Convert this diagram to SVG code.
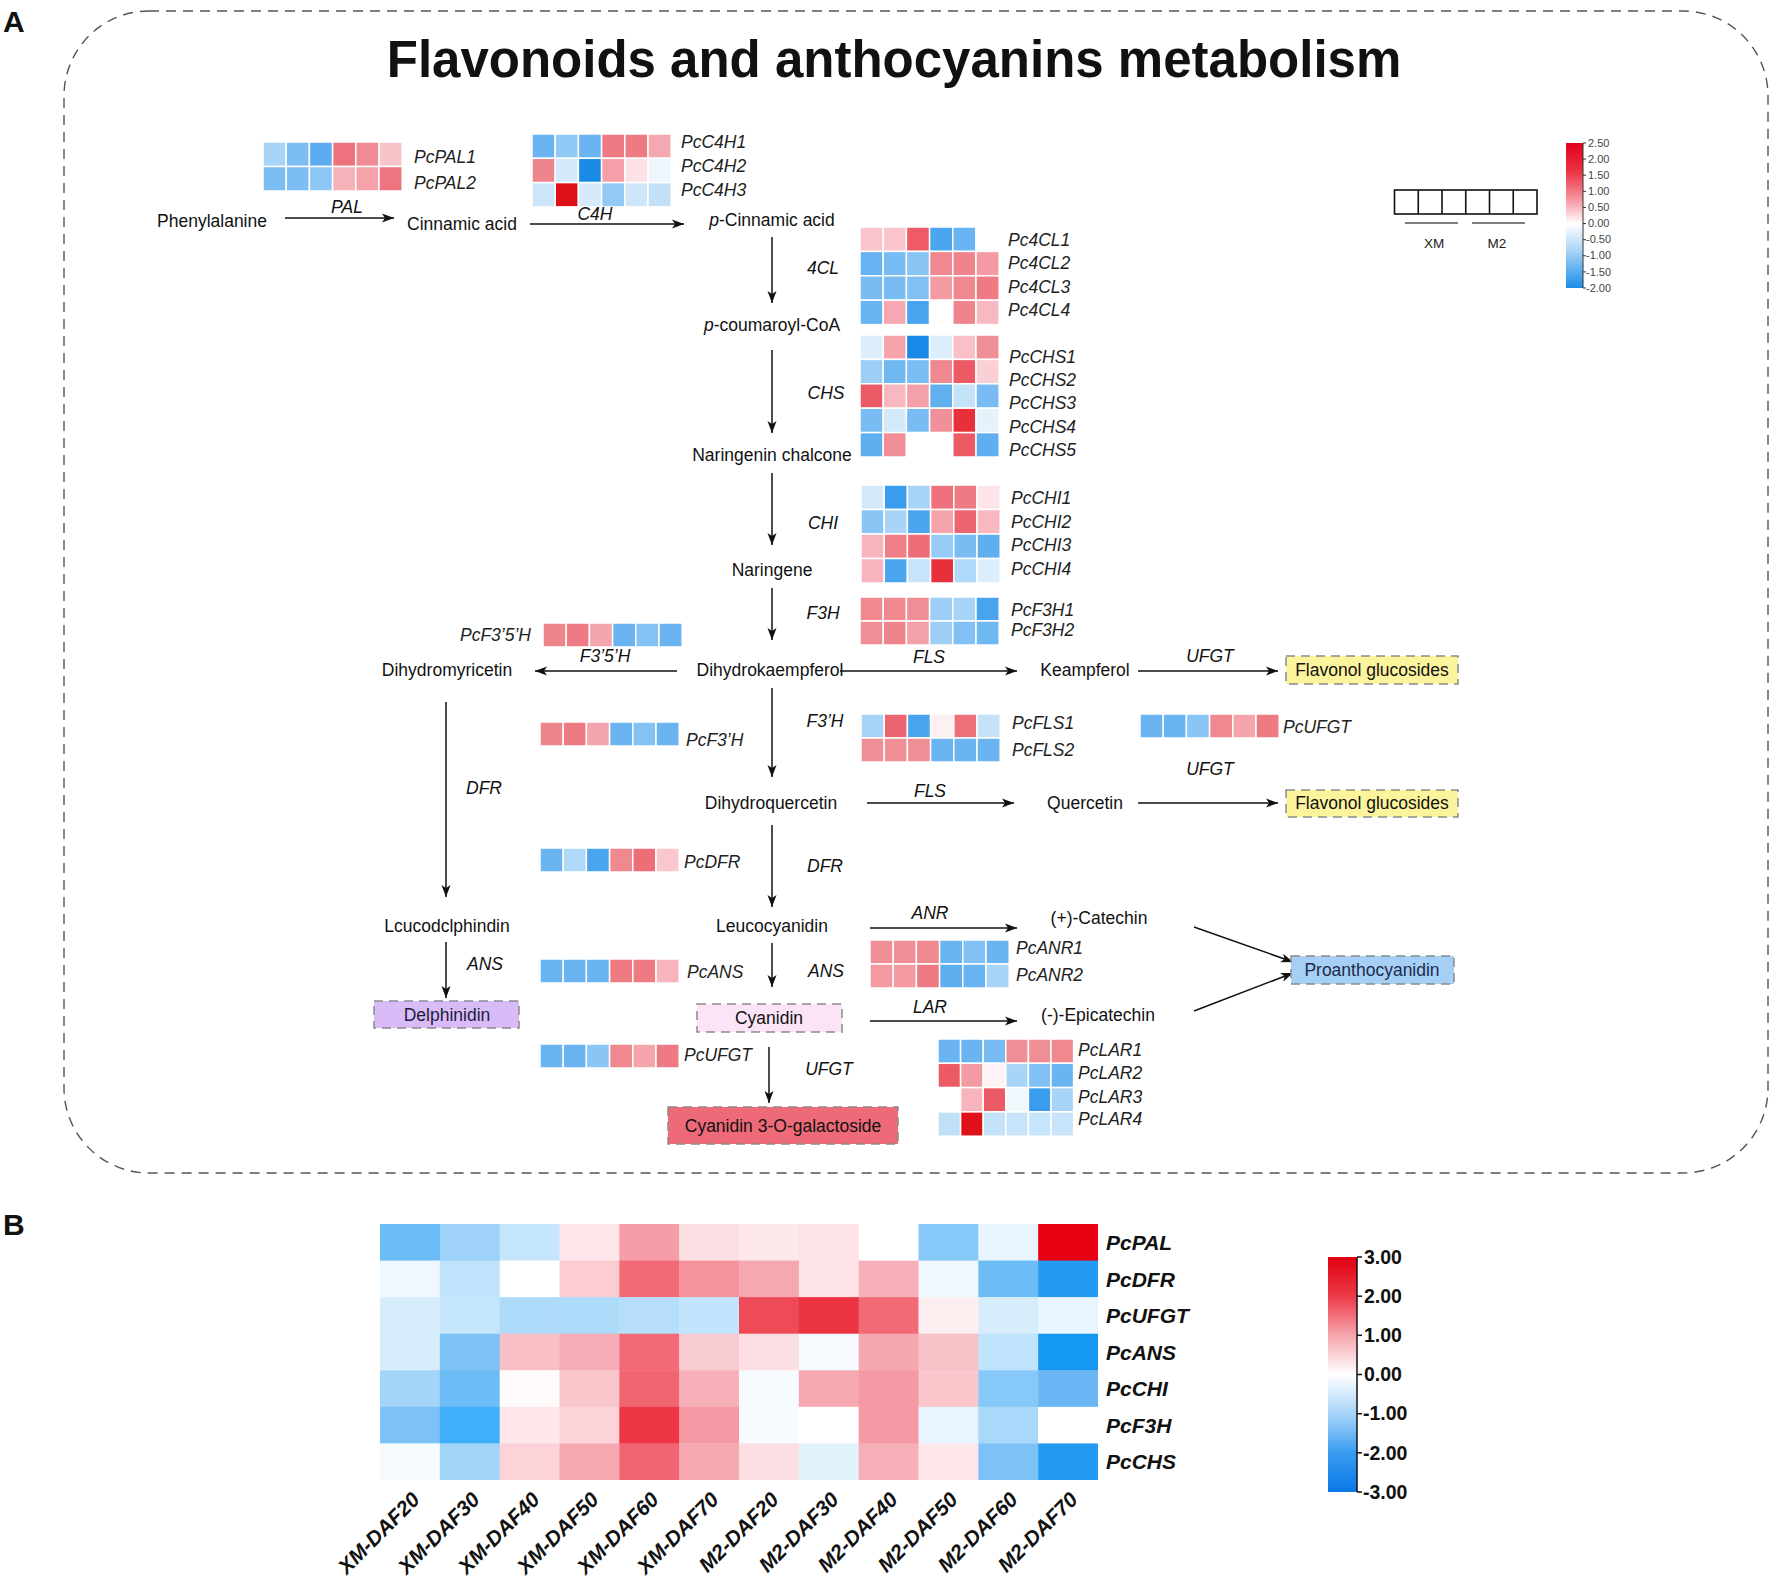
<svg xmlns="http://www.w3.org/2000/svg" width="1772" height="1585" viewBox="0 0 1772 1585">
<defs>
<style>
text{font-family:"Liberation Sans",Arial,sans-serif;fill:#111}
.m{font-size:17.5px;text-anchor:middle}
.g{font-size:17.5px;font-style:italic;fill:#222}
.e{font-size:17.5px;font-style:italic;text-anchor:middle}
.c rect{stroke:#fff;stroke-width:1.5}
.b rect{stroke:none}
.bx{stroke:#8a8a8a;stroke-width:1.5;stroke-dasharray:9 6}
.ln{stroke:#111;stroke-width:1.5;fill:none}
.bl{font-size:21px;font-weight:bold;font-style:italic}
.cl{font-size:21px;font-weight:bold;font-style:italic;text-anchor:end}
.t1{font-size:11px;fill:#444}
.t2{font-size:19.5px;font-weight:bold}
</style>
<marker id="ah" markerWidth="13" markerHeight="10" refX="12" refY="5" orient="auto" markerUnits="userSpaceOnUse"><path d="M0,0.5 L12,5 L0,9.5 L3,5 Z" fill="#111"/></marker>
<linearGradient id="gA" x1="0" y1="0" x2="0" y2="1">
<stop offset="0" stop-color="#e0001b"/><stop offset="0.2" stop-color="#ec3444"/><stop offset="0.4" stop-color="#f59ca6"/><stop offset="0.556" stop-color="#ffffff"/><stop offset="0.72" stop-color="#b4daf8"/><stop offset="1" stop-color="#1a8ee8"/>
</linearGradient>
<linearGradient id="gB" x1="0" y1="0" x2="0" y2="1">
<stop offset="0" stop-color="#e00010"/><stop offset="0.167" stop-color="#ec3a48"/><stop offset="0.333" stop-color="#f5a5ad"/><stop offset="0.5" stop-color="#ffffff"/><stop offset="0.667" stop-color="#a8d4fa"/><stop offset="0.833" stop-color="#3a9cf0"/><stop offset="1" stop-color="#0a78e8"/>
</linearGradient>
</defs>
<rect width="1772" height="1585" fill="#fff"/>

<text x="3" y="32" style="font-size:30px;font-weight:bold">A</text>
<text x="3" y="1235" style="font-size:30px;font-weight:bold">B</text>
<path d="M149,11 H1683 A85,85 0 0 1 1768,96 V1088 A85,85 0 0 1 1683,1173 H149 A85,85 0 0 1 64,1088 V96 A85,85 0 0 1 149,11 Z" fill="none" stroke="#555" stroke-width="1.4" stroke-dasharray="10 7"/>
<text x="894" y="77" style="font-size:51px;font-weight:bold;text-anchor:middle">Flavonoids and anthocyanins metabolism</text>

<g id="connectors">
<line class="ln" x1="285" y1="218" x2="394" y2="218" marker-end="url(#ah)"/>
<line class="ln" x1="530" y1="224" x2="684" y2="224" marker-end="url(#ah)"/>
<line class="ln" x1="772" y1="237" x2="772" y2="303" marker-end="url(#ah)"/>
<line class="ln" x1="772" y1="350" x2="772" y2="433" marker-end="url(#ah)"/>
<line class="ln" x1="772" y1="473" x2="772" y2="545" marker-end="url(#ah)"/>
<line class="ln" x1="772" y1="588" x2="772" y2="640" marker-end="url(#ah)"/>
<line class="ln" x1="677" y1="671" x2="535" y2="671" marker-end="url(#ah)"/>
<line class="ln" x1="840" y1="671" x2="1017" y2="671" marker-end="url(#ah)"/>
<line class="ln" x1="1138" y1="671" x2="1278" y2="671" marker-end="url(#ah)"/>
<line class="ln" x1="446" y1="702" x2="446" y2="897" marker-end="url(#ah)"/>
<line class="ln" x1="772" y1="688" x2="772" y2="777" marker-end="url(#ah)"/>
<line class="ln" x1="867" y1="803" x2="1014" y2="803" marker-end="url(#ah)"/>
<line class="ln" x1="1138" y1="803" x2="1278" y2="803" marker-end="url(#ah)"/>
<line class="ln" x1="772" y1="825" x2="772" y2="907" marker-end="url(#ah)"/>
<line class="ln" x1="870" y1="928" x2="1017" y2="928" marker-end="url(#ah)"/>
<line class="ln" x1="870" y1="1021" x2="1017" y2="1021" marker-end="url(#ah)"/>
<line class="ln" x1="446" y1="942" x2="446" y2="998" marker-end="url(#ah)"/>
<line class="ln" x1="772" y1="943" x2="772" y2="987" marker-end="url(#ah)"/>
<line class="ln" x1="769" y1="1047" x2="769" y2="1103" marker-end="url(#ah)"/>
<line class="ln" x1="1194" y1="927" x2="1293" y2="962" marker-end="url(#ah)"/>
<line class="ln" x1="1194" y1="1011" x2="1293" y2="973" marker-end="url(#ah)"/>
</g>

<g id="n-phenylalanine"><text class="m" x="212" y="227">Phenylalanine</text></g>
<g id="n-cinnamic"><text class="m" x="462" y="230">Cinnamic acid</text></g>
<g id="n-pcinnamic"><text class="m" x="772" y="226"><tspan font-style="italic">p</tspan>-Cinnamic acid</text></g>
<g id="n-pcoumaroyl"><text class="m" x="772" y="331"><tspan font-style="italic">p</tspan>-coumaroyl-CoA</text></g>
<g id="n-naringenin-chalcone"><text class="m" x="772" y="461">Naringenin chalcone</text></g>
<g id="n-naringene"><text class="m" x="772" y="576">Naringene</text></g>
<g id="n-dihydrokaempferol"><text class="m" x="770" y="676">Dihydrokaempferol</text></g>
<g id="n-dihydromyricetin"><text class="m" x="447" y="676">Dihydromyricetin</text></g>
<g id="n-keampferol"><text class="m" x="1085" y="676">Keampferol</text></g>
<g id="n-dihydroquercetin"><text class="m" x="771" y="809">Dihydroquercetin</text></g>
<g id="n-quercetin"><text class="m" x="1085" y="809">Quercetin</text></g>
<g id="n-leucodelphinidin"><text class="m" x="447" y="932">Lcucodclphindin</text></g>
<g id="n-leucocyanidin"><text class="m" x="772" y="932">Leucocyanidin</text></g>
<g id="n-catechin"><text class="m" x="1099" y="924">(+)-Catechin</text></g>
<g id="n-epicatechin"><text class="m" x="1098" y="1021">(-)-Epicatechin</text></g>
<g id="n-flavonol1"><rect class="bx" x="1286" y="656" width="172" height="28" fill="#fcf49c"/><text class="m" x="1372" y="676">Flavonol glucosides</text></g>
<g id="n-flavonol2"><rect class="bx" x="1286" y="790" width="172" height="27" fill="#fcf49c"/><text class="m" x="1372" y="809">Flavonol glucosides</text></g>
<g id="n-delphinidin"><rect class="bx" x="374" y="1001" width="145" height="27" fill="#d9bcf7"/><text class="m" x="447" y="1021" style="fill:#1c1c3c">Delphinidin</text></g>
<g id="n-cyanidin"><rect class="bx" x="697" y="1004" width="145" height="28" fill="#fbe4f6"/><text class="m" x="769" y="1024">Cyanidin</text></g>
<g id="n-c3g"><rect class="bx" x="668" y="1107" width="230" height="37" fill="#ee6a78"/><text class="m" x="783" y="1132">Cyanidin 3-O-galactoside</text></g>
<g id="n-proanthocyanidin"><rect class="bx" x="1291" y="956" width="163" height="28" fill="#a6cff5"/><text class="m" x="1372" y="976" style="fill:#1c2c4c">Proanthocyanidin</text></g>

<g id="hm-PAL" class="c" transform="translate(263,142)">
<rect x="0" y="0" width="23.2" height="24.5" fill="#a8d4f7"/><rect x="23.2" y="0" width="23.2" height="24.5" fill="#7cbdf3"/><rect x="46.4" y="0" width="23.2" height="24.5" fill="#5eacf0"/><rect x="69.6" y="0" width="23.2" height="24.5" fill="#ee727e"/><rect x="92.8" y="0" width="23.2" height="24.5" fill="#f08a93"/><rect x="116" y="0" width="23.2" height="24.5" fill="#f9c3ca"/>
<rect x="0" y="24.5" width="23.2" height="24.5" fill="#7cbdf3"/><rect x="23.2" y="24.5" width="23.2" height="24.5" fill="#7cbdf3"/><rect x="46.4" y="24.5" width="23.2" height="24.5" fill="#8cc7f5"/><rect x="69.6" y="24.5" width="23.2" height="24.5" fill="#f7b1b9"/><rect x="92.8" y="24.5" width="23.2" height="24.5" fill="#f5a2aa"/><rect x="116" y="24.5" width="23.2" height="24.5" fill="#ee7480"/>
</g>
<g id="lb-PAL"><text class="g" x="414" y="163">PcPAL1</text><text class="g" x="414" y="189">PcPAL2</text></g>

<g id="hm-C4H" class="c" transform="translate(532,134)">
<rect x="0" y="0" width="23.2" height="24.3" fill="#6ab4f2"/><rect x="23.2" y="0" width="23.2" height="24.3" fill="#90c9f5"/><rect x="46.4" y="0" width="23.2" height="24.3" fill="#6ab4f2"/><rect x="69.6" y="0" width="23.2" height="24.3" fill="#ee7a84"/><rect x="92.8" y="0" width="23.2" height="24.3" fill="#ee7a84"/><rect x="116" y="0" width="23.2" height="24.3" fill="#f4a9b1"/>
<rect x="0" y="24.3" width="23.2" height="24.3" fill="#ee858d"/><rect x="23.2" y="24.3" width="23.2" height="24.3" fill="#d4eafa"/><rect x="46.4" y="24.3" width="23.2" height="24.3" fill="#1a8ae6"/><rect x="69.6" y="24.3" width="23.2" height="24.3" fill="#f5a0a8"/><rect x="92.8" y="24.3" width="23.2" height="24.3" fill="#fde1e5"/><rect x="116" y="24.3" width="23.2" height="24.3" fill="#eef6fd"/>
<rect x="0" y="48.6" width="23.2" height="24.3" fill="#cde6fa"/><rect x="23.2" y="48.6" width="23.2" height="24.3" fill="#e0101a"/><rect x="46.4" y="48.6" width="23.2" height="24.3" fill="#d5ebfa"/><rect x="69.6" y="48.6" width="23.2" height="24.3" fill="#92c9f5"/><rect x="92.8" y="48.6" width="23.2" height="24.3" fill="#cde6fa"/><rect x="116" y="48.6" width="23.2" height="24.3" fill="#c2e1f8"/>
</g>
<g id="lb-C4H"><text class="g" x="681" y="148">PcC4H1</text><text class="g" x="681" y="172">PcC4H2</text><text class="g" x="681" y="196">PcC4H3</text></g>

<g id="hm-4CL" class="c" transform="translate(860,227)">
<rect x="0" y="0" width="23.2" height="24.4" fill="#f9c4cc"/><rect x="23.2" y="0" width="23.2" height="24.4" fill="#f9c4cc"/><rect x="46.4" y="0" width="23.2" height="24.4" fill="#ee5a66"/><rect x="69.6" y="0" width="23.2" height="24.4" fill="#4aa6ee"/><rect x="92.8" y="0" width="23.2" height="24.4" fill="#68b4f2"/><rect x="116" y="0" width="23.2" height="24.4" fill="#ffffff"/>
<rect x="0" y="24.4" width="23.2" height="24.4" fill="#68b4f2"/><rect x="23.2" y="24.4" width="23.2" height="24.4" fill="#78bcf3"/><rect x="46.4" y="24.4" width="23.2" height="24.4" fill="#88c4f4"/><rect x="69.6" y="24.4" width="23.2" height="24.4" fill="#f08890"/><rect x="92.8" y="24.4" width="23.2" height="24.4" fill="#f0848c"/><rect x="116" y="24.4" width="23.2" height="24.4" fill="#f39aa2"/>
<rect x="0" y="48.8" width="23.2" height="24.4" fill="#78bcf3"/><rect x="23.2" y="48.8" width="23.2" height="24.4" fill="#78bcf3"/><rect x="46.4" y="48.8" width="23.2" height="24.4" fill="#82c0f4"/><rect x="69.6" y="48.8" width="23.2" height="24.4" fill="#f39aa2"/><rect x="92.8" y="48.8" width="23.2" height="24.4" fill="#f08890"/><rect x="116" y="48.8" width="23.2" height="24.4" fill="#ee7a84"/>
<rect x="0" y="73.2" width="23.2" height="24.4" fill="#6ab4f2"/><rect x="23.2" y="73.2" width="23.2" height="24.4" fill="#f5a8b0"/><rect x="46.4" y="73.2" width="23.2" height="24.4" fill="#48a4ee"/><rect x="69.6" y="73.2" width="23.2" height="24.4" fill="#ffffff"/><rect x="92.8" y="73.2" width="23.2" height="24.4" fill="#ee848c"/><rect x="116" y="73.2" width="23.2" height="24.4" fill="#f7b8c0"/>
</g>
<g id="lb-4CL"><text class="g" x="1008" y="246">Pc4CL1</text><text class="g" x="1008" y="269">Pc4CL2</text><text class="g" x="1008" y="293">Pc4CL3</text><text class="g" x="1008" y="316">Pc4CL4</text></g>

<g id="hm-CHS" class="c" transform="translate(860,335)">
<rect x="0" y="0" width="23.2" height="24.4" fill="#dceefc"/><rect x="23.2" y="0" width="23.2" height="24.4" fill="#f5a4ac"/><rect x="46.4" y="0" width="23.2" height="24.4" fill="#1a88e6"/><rect x="69.6" y="0" width="23.2" height="24.4" fill="#dceefc"/><rect x="92.8" y="0" width="23.2" height="24.4" fill="#f9c0c8"/><rect x="116" y="0" width="23.2" height="24.4" fill="#f08e96"/>
<rect x="0" y="24.4" width="23.2" height="24.4" fill="#9ccef6"/><rect x="23.2" y="24.4" width="23.2" height="24.4" fill="#70b8f2"/><rect x="46.4" y="24.4" width="23.2" height="24.4" fill="#7abdf3"/><rect x="69.6" y="24.4" width="23.2" height="24.4" fill="#f08890"/><rect x="92.8" y="24.4" width="23.2" height="24.4" fill="#ec5a66"/><rect x="116" y="24.4" width="23.2" height="24.4" fill="#fad0d6"/>
<rect x="0" y="48.8" width="23.2" height="24.4" fill="#ec5a66"/><rect x="23.2" y="48.8" width="23.2" height="24.4" fill="#f7b8c0"/><rect x="46.4" y="48.8" width="23.2" height="24.4" fill="#f4a0a8"/><rect x="69.6" y="48.8" width="23.2" height="24.4" fill="#60b0f0"/><rect x="92.8" y="48.8" width="23.2" height="24.4" fill="#c4e2f8"/><rect x="116" y="48.8" width="23.2" height="24.4" fill="#78bcf3"/>
<rect x="0" y="73.2" width="23.2" height="24.4" fill="#78bcf3"/><rect x="23.2" y="73.2" width="23.2" height="24.4" fill="#d4eafa"/><rect x="46.4" y="73.2" width="23.2" height="24.4" fill="#78bcf3"/><rect x="69.6" y="73.2" width="23.2" height="24.4" fill="#f0909a"/><rect x="92.8" y="73.2" width="23.2" height="24.4" fill="#e8303a"/><rect x="116" y="73.2" width="23.2" height="24.4" fill="#e4f2fc"/>
<rect x="0" y="97.6" width="23.2" height="24.4" fill="#5eaef0"/><rect x="23.2" y="97.6" width="23.2" height="24.4" fill="#f08e96"/><rect x="46.4" y="97.6" width="23.2" height="24.4" fill="#ffffff"/><rect x="69.6" y="97.6" width="23.2" height="24.4" fill="#ffffff"/><rect x="92.8" y="97.6" width="23.2" height="24.4" fill="#ec5a66"/><rect x="116" y="97.6" width="23.2" height="24.4" fill="#5eaef0"/>
</g>
<g id="lb-CHS"><text class="g" x="1009" y="363">PcCHS1</text><text class="g" x="1009" y="386">PcCHS2</text><text class="g" x="1009" y="409">PcCHS3</text><text class="g" x="1009" y="433">PcCHS4</text><text class="g" x="1009" y="456">PcCHS5</text></g>

<g id="hm-CHI" class="c" transform="translate(861,485)">
<rect x="0" y="0" width="23.2" height="24.5" fill="#d4eafa"/><rect x="23.2" y="0" width="23.2" height="24.5" fill="#3a9cec"/><rect x="46.4" y="0" width="23.2" height="24.5" fill="#a8d4f8"/><rect x="69.6" y="0" width="23.2" height="24.5" fill="#ee707a"/><rect x="92.8" y="0" width="23.2" height="24.5" fill="#ee7a84"/><rect x="116" y="0" width="23.2" height="24.5" fill="#fde4e8"/>
<rect x="0" y="24.5" width="23.2" height="24.5" fill="#8ac6f5"/><rect x="23.2" y="24.5" width="23.2" height="24.5" fill="#a8d4f8"/><rect x="46.4" y="24.5" width="23.2" height="24.5" fill="#4aa4ee"/><rect x="69.6" y="24.5" width="23.2" height="24.5" fill="#f5a4ac"/><rect x="92.8" y="24.5" width="23.2" height="24.5" fill="#ec6470"/><rect x="116" y="24.5" width="23.2" height="24.5" fill="#f7b8c0"/>
<rect x="0" y="49" width="23.2" height="24.5" fill="#f7b4bc"/><rect x="23.2" y="49" width="23.2" height="24.5" fill="#f08088"/><rect x="46.4" y="49" width="23.2" height="24.5" fill="#ee6e78"/><rect x="69.6" y="49" width="23.2" height="24.5" fill="#96ccf6"/><rect x="92.8" y="49" width="23.2" height="24.5" fill="#78bcf3"/><rect x="116" y="49" width="23.2" height="24.5" fill="#5eaef0"/>
<rect x="0" y="73.5" width="23.2" height="24.5" fill="#f7b4bc"/><rect x="23.2" y="73.5" width="23.2" height="24.5" fill="#4aa4ee"/><rect x="46.4" y="73.5" width="23.2" height="24.5" fill="#c8e4fa"/><rect x="69.6" y="73.5" width="23.2" height="24.5" fill="#e8303a"/><rect x="92.8" y="73.5" width="23.2" height="24.5" fill="#b0d8f8"/><rect x="116" y="73.5" width="23.2" height="24.5" fill="#dceefc"/>
</g>
<g id="lb-CHI"><text class="g" x="1011" y="504">PcCHI1</text><text class="g" x="1011" y="528">PcCHI2</text><text class="g" x="1011" y="551">PcCHI3</text><text class="g" x="1011" y="575">PcCHI4</text></g>

<g id="hm-F3H" class="c" transform="translate(860,597)">
<rect x="0" y="0" width="23.2" height="24" fill="#f08890"/><rect x="23.2" y="0" width="23.2" height="24" fill="#f08890"/><rect x="46.4" y="0" width="23.2" height="24" fill="#f08e96"/><rect x="69.6" y="0" width="23.2" height="24" fill="#9ccef6"/><rect x="92.8" y="0" width="23.2" height="24" fill="#a8d4f8"/><rect x="116" y="0" width="23.2" height="24" fill="#48a4ee"/>
<rect x="0" y="24" width="23.2" height="24" fill="#f08e96"/><rect x="23.2" y="24" width="23.2" height="24" fill="#ee848c"/><rect x="46.4" y="24" width="23.2" height="24" fill="#f4a0a8"/><rect x="69.6" y="24" width="23.2" height="24" fill="#9ccef6"/><rect x="92.8" y="24" width="23.2" height="24" fill="#80c0f4"/><rect x="116" y="24" width="23.2" height="24" fill="#70b8f2"/>
</g>
<g id="lb-F3H"><text class="g" x="1011" y="616">PcF3H1</text><text class="g" x="1011" y="636">PcF3H2</text></g>

<g id="hm-F35H" class="c" transform="translate(543,623)">
<rect x="0" y="0" width="23.2" height="24" fill="#ee848c"/><rect x="23.2" y="0" width="23.2" height="24" fill="#ee7a84"/><rect x="46.4" y="0" width="23.2" height="24" fill="#f4a4ac"/><rect x="69.6" y="0" width="23.2" height="24" fill="#6ab4f2"/><rect x="92.8" y="0" width="23.2" height="24" fill="#84c2f4"/><rect x="116" y="0" width="23.2" height="24" fill="#6ab4f2"/>
</g>
<g id="lb-F35H"><text class="g" x="460" y="641">PcF3’5’H</text></g>

<g id="hm-F3pH" class="c" transform="translate(540,722)">
<rect x="0" y="0" width="23.2" height="24" fill="#ee848c"/><rect x="23.2" y="0" width="23.2" height="24" fill="#ee7a84"/><rect x="46.4" y="0" width="23.2" height="24" fill="#f4a4ac"/><rect x="69.6" y="0" width="23.2" height="24" fill="#6ab4f2"/><rect x="92.8" y="0" width="23.2" height="24" fill="#84c2f4"/><rect x="116" y="0" width="23.2" height="24" fill="#6ab4f2"/>
</g>
<g id="lb-F3pH"><text class="g" x="686" y="746">PcF3’H</text></g>

<g id="hm-FLS" class="c" transform="translate(861,714)">
<rect x="0" y="0" width="23.2" height="24" fill="#a8d4f8"/><rect x="23.2" y="0" width="23.2" height="24" fill="#ec6470"/><rect x="46.4" y="0" width="23.2" height="24" fill="#48a4ee"/><rect x="69.6" y="0" width="23.2" height="24" fill="#fdf0f2"/><rect x="92.8" y="0" width="23.2" height="24" fill="#ee707a"/><rect x="116" y="0" width="23.2" height="24" fill="#c4e2f8"/>
<rect x="0" y="24" width="23.2" height="24" fill="#f08e96"/><rect x="23.2" y="24" width="23.2" height="24" fill="#f08e96"/><rect x="46.4" y="24" width="23.2" height="24" fill="#f08e96"/><rect x="69.6" y="24" width="23.2" height="24" fill="#6ab4f2"/><rect x="92.8" y="24" width="23.2" height="24" fill="#6ab4f2"/><rect x="116" y="24" width="23.2" height="24" fill="#6ab4f2"/>
</g>
<g id="lb-FLS"><text class="g" x="1012" y="729">PcFLS1</text><text class="g" x="1012" y="756">PcFLS2</text></g>

<g id="hm-UFGT1" class="c" transform="translate(1140,714)">
<rect x="0" y="0" width="23.2" height="24" fill="#6ab4f2"/><rect x="23.2" y="0" width="23.2" height="24" fill="#6ab4f2"/><rect x="46.4" y="0" width="23.2" height="24" fill="#8ac6f5"/><rect x="69.6" y="0" width="23.2" height="24" fill="#f08890"/><rect x="92.8" y="0" width="23.2" height="24" fill="#f5a4ac"/><rect x="116" y="0" width="23.2" height="24" fill="#ee7a84"/>
</g>
<g id="lb-UFGT1"><text class="g" x="1283" y="733">PcUFGT</text></g>

<g id="hm-DFR" class="c" transform="translate(540,848)">
<rect x="0" y="0" width="23.2" height="24" fill="#6ab4f2"/><rect x="23.2" y="0" width="23.2" height="24" fill="#b0d8f8"/><rect x="46.4" y="0" width="23.2" height="24" fill="#4aa4ee"/><rect x="69.6" y="0" width="23.2" height="24" fill="#f08890"/><rect x="92.8" y="0" width="23.2" height="24" fill="#ee6e78"/><rect x="116" y="0" width="23.2" height="24" fill="#f9c8cf"/>
</g>
<g id="lb-DFR"><text class="g" x="684" y="868">PcDFR</text></g>

<g id="hm-ANS" class="c" transform="translate(540,959)">
<rect x="0" y="0" width="23.2" height="24" fill="#6ab4f2"/><rect x="23.2" y="0" width="23.2" height="24" fill="#6ab4f2"/><rect x="46.4" y="0" width="23.2" height="24" fill="#6ab4f2"/><rect x="69.6" y="0" width="23.2" height="24" fill="#ee7a84"/><rect x="92.8" y="0" width="23.2" height="24" fill="#ee7a84"/><rect x="116" y="0" width="23.2" height="24" fill="#f7b4bc"/>
</g>
<g id="lb-ANS"><text class="g" x="687" y="978">PcANS</text></g>

<g id="hm-UFGT2" class="c" transform="translate(540,1044)">
<rect x="0" y="0" width="23.2" height="24" fill="#6ab4f2"/><rect x="23.2" y="0" width="23.2" height="24" fill="#6ab4f2"/><rect x="46.4" y="0" width="23.2" height="24" fill="#8ac6f5"/><rect x="69.6" y="0" width="23.2" height="24" fill="#f08890"/><rect x="92.8" y="0" width="23.2" height="24" fill="#f5a4ac"/><rect x="116" y="0" width="23.2" height="24" fill="#ee7a84"/>
</g>
<g id="lb-UFGT2"><text class="g" x="684" y="1061">PcUFGT</text></g>

<g id="hm-ANR" class="c" transform="translate(870,940)">
<rect x="0" y="0" width="23.2" height="24" fill="#f08e96"/><rect x="23.2" y="0" width="23.2" height="24" fill="#f08e96"/><rect x="46.4" y="0" width="23.2" height="24" fill="#f08890"/><rect x="69.6" y="0" width="23.2" height="24" fill="#6ab4f2"/><rect x="92.8" y="0" width="23.2" height="24" fill="#80c0f4"/><rect x="116" y="0" width="23.2" height="24" fill="#6ab4f2"/>
<rect x="0" y="24" width="23.2" height="24" fill="#f39aa2"/><rect x="23.2" y="24" width="23.2" height="24" fill="#f39aa2"/><rect x="46.4" y="24" width="23.2" height="24" fill="#ee7a84"/><rect x="69.6" y="24" width="23.2" height="24" fill="#5eaef0"/><rect x="92.8" y="24" width="23.2" height="24" fill="#6ab4f2"/><rect x="116" y="24" width="23.2" height="24" fill="#a8d4f8"/>
</g>
<g id="lb-ANR"><text class="g" x="1016" y="954">PcANR1</text><text class="g" x="1016" y="981">PcANR2</text></g>

<g id="hm-LAR" class="c" transform="translate(938,1039)">
<rect x="0" y="0" width="22.6" height="24.3" fill="#6ab4f2"/><rect x="22.6" y="0" width="22.6" height="24.3" fill="#6ab4f2"/><rect x="45.2" y="0" width="22.6" height="24.3" fill="#78bcf3"/><rect x="67.8" y="0" width="22.6" height="24.3" fill="#f08e96"/><rect x="90.4" y="0" width="22.6" height="24.3" fill="#f08e96"/><rect x="113" y="0" width="22.6" height="24.3" fill="#f08890"/>
<rect x="0" y="24.3" width="22.6" height="24.3" fill="#ec5a66"/><rect x="22.6" y="24.3" width="22.6" height="24.3" fill="#f39aa2"/><rect x="45.2" y="24.3" width="22.6" height="24.3" fill="#fdf2f4"/><rect x="67.8" y="24.3" width="22.6" height="24.3" fill="#a8d4f8"/><rect x="90.4" y="24.3" width="22.6" height="24.3" fill="#80c0f4"/><rect x="113" y="24.3" width="22.6" height="24.3" fill="#6ab4f2"/>
<rect x="0" y="48.6" width="22.6" height="24.3" fill="#ffffff"/><rect x="22.6" y="48.6" width="22.6" height="24.3" fill="#f7b4bc"/><rect x="45.2" y="48.6" width="22.6" height="24.3" fill="#ec5a66"/><rect x="67.8" y="48.6" width="22.6" height="24.3" fill="#f0f8fe"/><rect x="90.4" y="48.6" width="22.6" height="24.3" fill="#3a9cec"/><rect x="113" y="48.6" width="22.6" height="24.3" fill="#a8d4f8"/>
<rect x="0" y="72.9" width="22.6" height="24.3" fill="#c0e0f8"/><rect x="22.6" y="72.9" width="22.6" height="24.3" fill="#e01018"/><rect x="45.2" y="72.9" width="22.6" height="24.3" fill="#c4e2f8"/><rect x="67.8" y="72.9" width="22.6" height="24.3" fill="#c8e4fa"/><rect x="90.4" y="72.9" width="22.6" height="24.3" fill="#c8e4fa"/><rect x="113" y="72.9" width="22.6" height="24.3" fill="#c8e4fa"/>
</g>
<g id="lb-LAR"><text class="g" x="1078" y="1056">PcLAR1</text><text class="g" x="1078" y="1079">PcLAR2</text><text class="g" x="1078" y="1103">PcLAR3</text><text class="g" x="1078" y="1125">PcLAR4</text></g>

<g id="enzymes">
<text class="e" x="347" y="213">PAL</text>
<text class="e" x="595" y="220">C4H</text>
<text class="e" x="823" y="274">4CL</text>
<text class="e" x="826" y="399">CHS</text>
<text class="e" x="823" y="529">CHI</text>
<text class="e" x="823" y="619">F3H</text>
<text class="e" x="605" y="662">F3’5’H</text>
<text class="e" x="929" y="663">FLS</text>
<text class="e" x="1210" y="662">UFGT</text>
<text class="e" x="825" y="727">F3’H</text>
<text class="e" x="1210" y="775">UFGT</text>
<text class="e" x="484" y="794">DFR</text>
<text class="e" x="930" y="797">FLS</text>
<text class="e" x="825" y="872">DFR</text>
<text class="e" x="930" y="919">ANR</text>
<text class="e" x="485" y="970">ANS</text>
<text class="e" x="826" y="977">ANS</text>
<text class="e" x="930" y="1013">LAR</text>
<text class="e" x="829" y="1075">UFGT</text>
</g>

<g id="legend-A">
<g fill="none" stroke="#111" stroke-width="1.6">
<rect x="1394.5" y="190" width="142.5" height="24"/>
<line x1="1418.25" y1="190" x2="1418.25" y2="214"/><line x1="1442" y1="190" x2="1442" y2="214"/><line x1="1465.75" y1="190" x2="1465.75" y2="214"/><line x1="1489.5" y1="190" x2="1489.5" y2="214"/><line x1="1513.25" y1="190" x2="1513.25" y2="214"/>
</g>
<line x1="1405" y1="223" x2="1458" y2="223" stroke="#555" stroke-width="1.5"/>
<line x1="1472" y1="223" x2="1525" y2="223" stroke="#555" stroke-width="1.5"/>
<text x="1434" y="248" style="font-size:13.5px;text-anchor:middle;fill:#222">XM</text>
<text x="1497" y="248" style="font-size:13.5px;text-anchor:middle;fill:#222">M2</text>
<rect x="1566" y="143" width="17" height="145" fill="url(#gA)"/>
<g stroke="#333" stroke-width="1"><line x1="1583" y1="143" x2="1583" y2="288"/><line x1="1583" y1="143" x2="1586" y2="143"/><line x1="1583" y1="159.1" x2="1586" y2="159.1"/><line x1="1583" y1="175.2" x2="1586" y2="175.2"/><line x1="1583" y1="191.3" x2="1586" y2="191.3"/><line x1="1583" y1="207.4" x2="1586" y2="207.4"/><line x1="1583" y1="223.6" x2="1586" y2="223.6"/><line x1="1583" y1="239.7" x2="1586" y2="239.7"/><line x1="1583" y1="255.8" x2="1586" y2="255.8"/><line x1="1583" y1="271.9" x2="1586" y2="271.9"/><line x1="1583" y1="288" x2="1586" y2="288"/></g>
<text class="t1" x="1588" y="147">2.50</text><text class="t1" x="1588" y="163">2.00</text><text class="t1" x="1588" y="179">1.50</text><text class="t1" x="1588" y="195">1.00</text><text class="t1" x="1588" y="211">0.50</text><text class="t1" x="1588" y="227">0.00</text><text class="t1" x="1586" y="243">-0.50</text><text class="t1" x="1586" y="259">-1.00</text><text class="t1" x="1586" y="276">-1.50</text><text class="t1" x="1586" y="292">-2.00</text>
</g>

<g id="heatmap-B" class="b" transform="translate(380,1224)">
<rect x="0" y="0" width="60.3" height="37" fill="#6cbcf6"/><rect x="59.83" y="0" width="60.3" height="37" fill="#9ed2f8"/><rect x="119.67" y="0" width="60.3" height="37" fill="#c6e6fc"/><rect x="179.5" y="0" width="60.3" height="37" fill="#fde6e9"/><rect x="239.33" y="0" width="60.3" height="37" fill="#f69ea7"/><rect x="299.17" y="0" width="60.3" height="37" fill="#fcdfe3"/><rect x="359" y="0" width="60.3" height="37" fill="#fde9ec"/><rect x="418.83" y="0" width="60.3" height="37" fill="#fde3e7"/><rect x="478.67" y="0" width="60.3" height="37" fill="#ffffff"/><rect x="538.5" y="0" width="60.3" height="37" fill="#86c8f8"/><rect x="598.33" y="0" width="60.3" height="37" fill="#e8f5fe"/><rect x="658.17" y="0" width="59.83" height="37" fill="#e60012"/>
<rect x="0" y="36.57" width="60.3" height="37" fill="#eef8fe"/><rect x="59.83" y="36.57" width="60.3" height="37" fill="#c0e3fc"/><rect x="119.67" y="36.57" width="60.3" height="37" fill="#ffffff"/><rect x="179.5" y="36.57" width="60.3" height="37" fill="#fbcdd3"/><rect x="239.33" y="36.57" width="60.3" height="37" fill="#f16a76"/><rect x="299.17" y="36.57" width="60.3" height="37" fill="#f5939d"/><rect x="359" y="36.57" width="60.3" height="37" fill="#f6a8b0"/><rect x="418.83" y="36.57" width="60.3" height="37" fill="#fde3e7"/><rect x="478.67" y="36.57" width="60.3" height="37" fill="#f7b0b7"/><rect x="538.5" y="36.57" width="60.3" height="37" fill="#f2f9fe"/><rect x="598.33" y="36.57" width="60.3" height="37" fill="#6cbcf6"/><rect x="658.17" y="36.57" width="59.83" height="37" fill="#239bf3"/>
<rect x="0" y="73.14" width="60.3" height="37" fill="#d8edfc"/><rect x="59.83" y="73.14" width="60.3" height="37" fill="#c6e6fc"/><rect x="119.67" y="73.14" width="60.3" height="37" fill="#afdbfa"/><rect x="179.5" y="73.14" width="60.3" height="37" fill="#afdbfa"/><rect x="239.33" y="73.14" width="60.3" height="37" fill="#b6defa"/><rect x="299.17" y="73.14" width="60.3" height="37" fill="#c2e4fc"/><rect x="359" y="73.14" width="60.3" height="37" fill="#ee4a57"/><rect x="418.83" y="73.14" width="60.3" height="37" fill="#eb3342"/><rect x="478.67" y="73.14" width="60.3" height="37" fill="#f16a76"/><rect x="538.5" y="73.14" width="60.3" height="37" fill="#fdeef0"/><rect x="598.33" y="73.14" width="60.3" height="37" fill="#d8edfc"/><rect x="658.17" y="73.14" width="59.83" height="37" fill="#e8f5fe"/>
<rect x="0" y="109.71" width="60.3" height="37" fill="#d8edfc"/><rect x="59.83" y="109.71" width="60.3" height="37" fill="#7cc2f7"/><rect x="119.67" y="109.71" width="60.3" height="37" fill="#f8bfc6"/><rect x="179.5" y="109.71" width="60.3" height="37" fill="#f7adb5"/><rect x="239.33" y="109.71" width="60.3" height="37" fill="#f16a76"/><rect x="299.17" y="109.71" width="60.3" height="37" fill="#f9ccd2"/><rect x="359" y="109.71" width="60.3" height="37" fill="#fcdfe3"/><rect x="418.83" y="109.71" width="60.3" height="37" fill="#f6fbff"/><rect x="478.67" y="109.71" width="60.3" height="37" fill="#f6a6ae"/><rect x="538.5" y="109.71" width="60.3" height="37" fill="#f8c1c8"/><rect x="598.33" y="109.71" width="60.3" height="37" fill="#c0e3fc"/><rect x="658.17" y="109.71" width="59.83" height="37" fill="#1598f2"/>
<rect x="0" y="146.29" width="60.3" height="37" fill="#a3d4f9"/><rect x="59.83" y="146.29" width="60.3" height="37" fill="#6cbcf6"/><rect x="119.67" y="146.29" width="60.3" height="37" fill="#fffbfb"/><rect x="179.5" y="146.29" width="60.3" height="37" fill="#f9c6cc"/><rect x="239.33" y="146.29" width="60.3" height="37" fill="#f16471"/><rect x="299.17" y="146.29" width="60.3" height="37" fill="#f7b0b7"/><rect x="359" y="146.29" width="60.3" height="37" fill="#f6fbff"/><rect x="418.83" y="146.29" width="60.3" height="37" fill="#f6a8b0"/><rect x="478.67" y="146.29" width="60.3" height="37" fill="#f59aa4"/><rect x="538.5" y="146.29" width="60.3" height="37" fill="#f9c6cc"/><rect x="598.33" y="146.29" width="60.3" height="37" fill="#86c8f8"/><rect x="658.17" y="146.29" width="59.83" height="37" fill="#6ab6f4"/>
<rect x="0" y="182.86" width="60.3" height="37" fill="#7cc2f7"/><rect x="59.83" y="182.86" width="60.3" height="37" fill="#3eaff8"/><rect x="119.67" y="182.86" width="60.3" height="37" fill="#fde7ea"/><rect x="179.5" y="182.86" width="60.3" height="37" fill="#fbd3d8"/><rect x="239.33" y="182.86" width="60.3" height="37" fill="#ee3646"/><rect x="299.17" y="182.86" width="60.3" height="37" fill="#f59aa4"/><rect x="359" y="182.86" width="60.3" height="37" fill="#f6fbff"/><rect x="418.83" y="182.86" width="60.3" height="37" fill="#ffffff"/><rect x="478.67" y="182.86" width="60.3" height="37" fill="#f59aa4"/><rect x="538.5" y="182.86" width="60.3" height="37" fill="#e8f5fe"/><rect x="598.33" y="182.86" width="60.3" height="37" fill="#aad8fa"/><rect x="658.17" y="182.86" width="59.83" height="37" fill="#ffffff"/>
<rect x="0" y="219.43" width="60.3" height="36.57" fill="#f6fbff"/><rect x="59.83" y="219.43" width="60.3" height="36.57" fill="#a3d4f9"/><rect x="119.67" y="219.43" width="60.3" height="36.57" fill="#fbd3d8"/><rect x="179.5" y="219.43" width="60.3" height="36.57" fill="#f6a8b0"/><rect x="239.33" y="219.43" width="60.3" height="36.57" fill="#f16471"/><rect x="299.17" y="219.43" width="60.3" height="36.57" fill="#f6a8b0"/><rect x="359" y="219.43" width="60.3" height="36.57" fill="#fcdfe3"/><rect x="418.83" y="219.43" width="60.3" height="36.57" fill="#e2f3fe"/><rect x="478.67" y="219.43" width="60.3" height="36.57" fill="#f7b0b7"/><rect x="538.5" y="219.43" width="60.3" height="36.57" fill="#fde7ea"/><rect x="598.33" y="219.43" width="60.3" height="36.57" fill="#7cc2f7"/><rect x="658.17" y="219.43" width="59.83" height="36.57" fill="#239bf3"/>
</g>
<g id="rowlabels-B">
<text class="bl" x="1106" y="1250">PcPAL</text><text class="bl" x="1106" y="1287">PcDFR</text><text class="bl" x="1106" y="1323">PcUFGT</text><text class="bl" x="1106" y="1360">PcANS</text><text class="bl" x="1106" y="1396">PcCHI</text><text class="bl" x="1106" y="1433">PcF3H</text><text class="bl" x="1106" y="1469">PcCHS</text>
</g>
<g id="collabels-B">
<text class="cl" transform="translate(421,1501) rotate(-45)">XM-DAF20</text>
<text class="cl" transform="translate(481,1501) rotate(-45)">XM-DAF30</text>
<text class="cl" transform="translate(541,1501) rotate(-45)">XM-DAF40</text>
<text class="cl" transform="translate(600,1501) rotate(-45)">XM-DAF50</text>
<text class="cl" transform="translate(660,1501) rotate(-45)">XM-DAF60</text>
<text class="cl" transform="translate(720,1501) rotate(-45)">XM-DAF70</text>
<text class="cl" transform="translate(780,1501) rotate(-45)">M2-DAF20</text>
<text class="cl" transform="translate(840,1501) rotate(-45)">M2-DAF30</text>
<text class="cl" transform="translate(899,1501) rotate(-45)">M2-DAF40</text>
<text class="cl" transform="translate(959,1501) rotate(-45)">M2-DAF50</text>
<text class="cl" transform="translate(1019,1501) rotate(-45)">M2-DAF60</text>
<text class="cl" transform="translate(1079,1501) rotate(-45)">M2-DAF70</text>
</g>
<g id="legend-B">
<rect x="1328" y="1257" width="29" height="235" fill="url(#gB)"/>
<g stroke="#111" stroke-width="1.5"><line x1="1357" y1="1257" x2="1357" y2="1492"/><line x1="1357" y1="1257" x2="1362" y2="1257"/><line x1="1357" y1="1296.2" x2="1362" y2="1296.2"/><line x1="1357" y1="1335.3" x2="1362" y2="1335.3"/><line x1="1357" y1="1374.5" x2="1362" y2="1374.5"/><line x1="1357" y1="1413.7" x2="1362" y2="1413.7"/><line x1="1357" y1="1452.8" x2="1362" y2="1452.8"/><line x1="1357" y1="1492" x2="1362" y2="1492"/></g>
<text class="t2" x="1364" y="1264">3.00</text><text class="t2" x="1364" y="1303">2.00</text><text class="t2" x="1364" y="1342">1.00</text><text class="t2" x="1364" y="1381">0.00</text><text class="t2" x="1363" y="1420">-1.00</text><text class="t2" x="1363" y="1460">-2.00</text><text class="t2" x="1363" y="1499">-3.00</text>
</g>
</svg>
